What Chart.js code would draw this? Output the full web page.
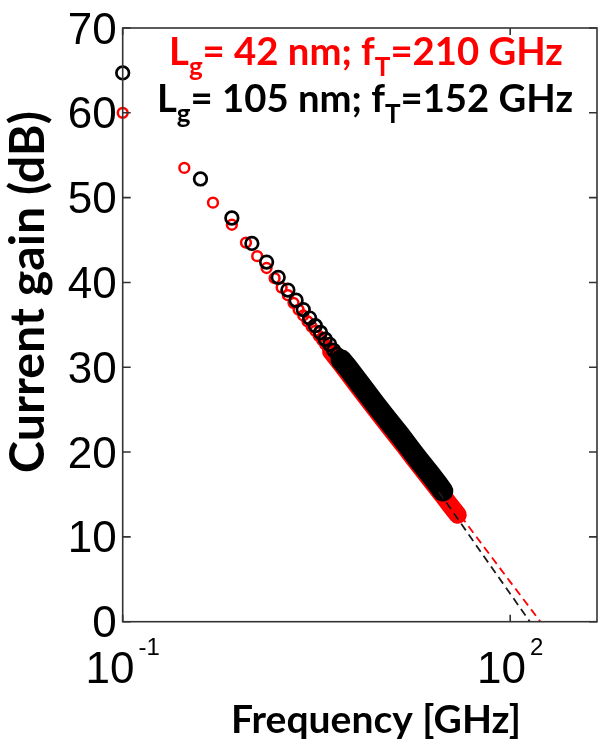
<!DOCTYPE html>
<html><head><meta charset="utf-8">
<script src="https://cdn.jsdelivr.net/npm/chart.js@4/dist/chart.umd.min.js"></script>
<style>html,body{margin:0;padding:0;background:#fff;overflow:hidden;}canvas{display:block;}</style>
</head><body>
<canvas id="c" width="606" height="742"></canvas>
<script>
// ---- data ----
const blackFreq = [0.1,0.4,0.7,1.0,1.3,1.6,1.9,2.2,2.5,2.8,3.1,3.4,3.7,4.0,4.3,4.6,4.9,5.5,7,9,11,14,17,20,24,27,30.1];
const blackGain = [64.7,52.2,47.6,44.6,42.4,40.6,39.1,37.9,36.8,35.8,34.9,34.1,33.3,32.7,32.0,31.5,30.9,30.0,27.9,25.7,24.0,22.0,20.3,18.9,17.4,16.4,15.4];
const redFreq = [0.1,0.3,0.5,0.7,0.9,1.1,1.3,1.5,1.7,1.9,2.1,2.3,2.5,2.7,2.9,3.1,3.3,3.5,3.7,3.9,4.1,5,6.5,8,10,12.5,15,18,22,26,30,34,37,39.3];
const redGain = [60.0,53.5,49.4,46.8,44.7,43.1,41.7,40.5,39.4,38.5,37.6,36.8,36.1,35.4,34.8,34.3,33.7,33.2,32.7,32.3,31.9,30.2,27.9,26.1,24.2,22.3,20.8,19.2,17.5,16.1,14.9,13.8,13.1,12.6];
const blackFitFreq = [28,36.6,60,100,142];
const blackFitGain = [15.3,12.8,8.1,3.3,0];
const redFitFreq = [36,60,100,171.5];
const redFitGain = [13.7,9.2,4.7,0];
// dense-measurement band starts at these frequencies
const blackBandFrom = 4.9;
const redBandFrom = 4.1;

const yTicks = [0,10,20,30,40,50,60,70];
const xTicks = [{v:0.1, base:'10', exp:'-1'}, {v:100, base:'10', exp:'2'}];
const xTitle = 'Frequency [GHz]';
const yTitle = 'Current gain (dB)';
const legendRed = [['L',0],['g',1],['= 42 nm; f',0],['T',1],['=210 GHz',0]];
const legendBlack = [['L',0],['g',1],['= 105 nm; f',0],['T',1],['=152 GHz',0]];

const toXY = (xs, ys) => xs.map((v,i) => ({x:v, y:ys[i]}));

const TITLE_FONT = 'Lato, "Open Sans", sans-serif';
const TICK_FONT = '"Liberation Sans", Arial, sans-serif';

function fitSize(ctx, text, weight, family, width){
  ctx.font = weight + ' 100px ' + family;
  return 100 * width / ctx.measureText(text).width;
}
function richWidth(ctx, parts, size){
  let w = 0;
  parts.forEach(([t,sub]) => {
    ctx.font = 'bold ' + (sub ? size*0.68 : size) + 'px ' + TITLE_FONT;
    w += ctx.measureText(t).width;
  });
  return w;
}
function drawRich(ctx, parts, left, baseline, width, color){
  const size = 100 * width / richWidth(ctx, parts, 100);
  let x = left;
  ctx.fillStyle = color;
  ctx.textAlign = 'left';
  ctx.textBaseline = 'alphabetic';
  parts.forEach(([t,sub]) => {
    const s = sub ? size*0.68 : size;
    ctx.font = 'bold ' + s + 'px ' + TITLE_FONT;
    ctx.fillText(t, x, baseline + (sub ? size*0.3 : 0));
    x += ctx.measureText(t).width;
  });
}

const frame = {
  id: 'frame',
  afterDatasetsDraw(chart){
    const {ctx, chartArea:a, scales:{x, y}} = chart;
    ctx.save();
    ctx.strokeStyle = '#333';
    ctx.lineWidth = 1.6;
    ctx.strokeRect(a.left, a.top, a.right - a.left, a.bottom - a.top);
    ctx.beginPath();
    yTicks.forEach(v => {
      const py = y.getPixelForValue(v);
      ctx.moveTo(a.left, py); ctx.lineTo(a.left + 8, py);
      ctx.moveTo(a.right, py); ctx.lineTo(a.right - 8, py);
    });
    xTicks.forEach(t => {
      const px = x.getPixelForValue(t.v);
      ctx.moveTo(px, a.bottom); ctx.lineTo(px, a.bottom - 7);
      ctx.moveTo(px, a.top); ctx.lineTo(px, a.top + 7);
    });
    ctx.stroke();

    // y tick labels
    ctx.fillStyle = '#000';
    ctx.font = '44px ' + TICK_FONT;
    ctx.textAlign = 'right';
    ctx.textBaseline = 'alphabetic';
    yTicks.forEach(v => ctx.fillText(String(v), a.left - 6, y.getPixelForValue(v) + 15.5));

    // x tick labels with superscripts
    ctx.textAlign = 'left';
    xTicks.forEach(t => {
      ctx.font = '44px ' + TICK_FONT;
      const wb = ctx.measureText(t.base).width;
      ctx.font = '24px ' + TICK_FONT;
      const we = ctx.measureText(t.exp).width;
      const gap = 4;
      const start = x.getPixelForValue(t.v) - (wb + gap + we) / 2;
      ctx.font = '44px ' + TICK_FONT;
      ctx.fillText(t.base, start, a.bottom + 61.3);
      ctx.font = '24px ' + TICK_FONT;
      ctx.fillText(t.exp, start + wb + gap, a.bottom + 33.3);
    });

    // axis titles
    let s = fitSize(ctx, xTitle, 'bold', TITLE_FONT, 290);
    ctx.font = 'bold ' + s + 'px ' + TITLE_FONT;
    ctx.textAlign = 'center';
    ctx.fillText(xTitle, 376, 733);

    s = fitSize(ctx, yTitle, 'bold', TITLE_FONT, 362);
    ctx.save();
    ctx.translate(44, 292);
    ctx.rotate(-Math.PI / 2);
    ctx.font = 'bold ' + s + 'px ' + TITLE_FONT;
    ctx.textAlign = 'center';
    ctx.fillText(yTitle, 0, 0);
    ctx.restore();

    // in-plot annotations
    drawRich(ctx, legendRed, 169, 65, 394, '#ff0000');
    drawRich(ctx, legendBlack, 157, 112, 416, '#000000');
    ctx.restore();
  }
};

new Chart(document.getElementById('c'), {
  type: 'line',
  data: {
    datasets: [
      {
        label: 'black fit', data: toXY(blackFitFreq, blackFitGain),
        borderColor: '#1a1a1a', borderWidth: 1.8, borderDash: [8,5],
        pointRadius: 0, fill: false, clip: false
      },
      {
        label: 'red fit', data: toXY(redFitFreq, redFitGain),
        borderColor: '#ff0000', borderWidth: 1.8, borderDash: [8,5],
        pointRadius: 0, fill: false, clip: false
      },
      {
        label: 'Lg=105 nm', data: toXY(blackFreq, blackGain),
        borderColor: 'rgba(0,0,0,0)', borderWidth: 21,
        borderCapStyle: 'round', borderJoinStyle: 'round',
        segment: { borderColor: c => c.p0.parsed.x >= blackBandFrom - 1e-6 ? '#000000' : undefined },
        pointStyle: 'circle', pointRadius: 6.3, pointBorderWidth: 2.7,
        pointBorderColor: '#000000', pointBackgroundColor: 'rgba(0,0,0,0)',
        fill: false, clip: false
      },
      {
        label: 'Lg=42 nm', data: toXY(redFreq, redGain),
        borderColor: 'rgba(0,0,0,0)', borderWidth: 18,
        borderCapStyle: 'round', borderJoinStyle: 'round',
        segment: { borderColor: c => c.p0.parsed.x >= redBandFrom - 1e-6 ? '#ff0000' : undefined },
        pointStyle: 'circle', pointRadius: 4.9, pointBorderWidth: 2.5,
        pointBorderColor: '#ff0000', pointBackgroundColor: 'rgba(0,0,0,0)',
        fill: false, clip: false
      }
    ]
  },
  options: {
    responsive: false,
    devicePixelRatio: 1,
    animation: false,
    layout: { padding: { left: 122.7, top: 28, right: 3, bottom: 120.3 } },
    plugins: { legend: { display: false }, tooltip: { enabled: false } },
    scales: {
      x: { type: 'logarithmic', min: 0.1, max: Math.pow(10, 2.672), display: false },
      y: { type: 'linear', min: 0, max: 70, display: false }
    }
  },
  plugins: [frame]
});
</script>
</body></html>
